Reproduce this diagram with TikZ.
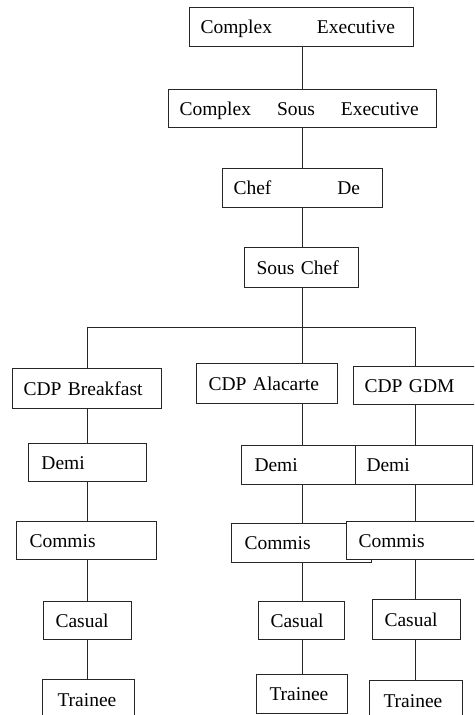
\documentclass[tikz,border=0pt]{standalone}
\usepackage{fontspec}
\setmainfont{Liberation Serif}
\begin{document}
\begin{tikzpicture}[x=1pt,y=-1pt,
		post/.style={draw=black!85, line width=1pt, fill=white, anchor=north west,
			inner ysep=0pt, align=left, text height=14pt, text depth=1pt,
			font=\fontsize{19.5}{22}\selectfont},
		link/.style={draw=black!85, line width=1pt}]
				% fix the page
				\useasboundingbox (0,0) rectangle (474,715);
				\clip (0,0) rectangle (474,715);

				% draw each post: name/left/top/width/height/padding/text
				\foreach \n/\x/\y/\w/\h/\p/\txt in {
					ce/189/7/224/39/11/Complex\hspace{45pt}Executive,
					cse/168/89/268/38/11/Complex\hspace{26pt}Sous\hspace{26pt}Executive,
					chef/222/168/160/39/11/Chef\hspace{66pt}De,
					sc/244/247/114/40/12/Sous Chef,
					% the stations
					bfast/12/368/149/40/11/CDP Breakfast,
					ala/196/363/141/40/12/CDP Alacarte,
					gdm/353/366/135/38/11/CDP GDM,
					% the breakfast column
					ldemi/28/443/118/38/13/Demi,
					lcom/16/521/140/38/13/Commis,
					lcas/43/601/88/38/12/Casual,
					ltr/42/679/92/40/15/Trainee,
					% the alacarte column
					mdemi/241/445/114/39/13/Demi,
					mcom/231/523/140/39/13/Commis,
					mcas/258/601/86/38/12/Casual,
					mtr/256/674/91/39/13/Trainee,
					% the gdm column
					rdemi/355/445/117/39/11/Demi,
					rcom/346/521/140/38/12/Commis,
					rcas/372/599/88/40/12/Casual,
					rtr/369/680/93/40/14/Trainee}
					{
						\pgfmathsetmacro\tw{\w-2*\p}
						\node[post, inner xsep=\p pt, text width=\tw pt, minimum height=\h pt] (\n) at (\x,\y) {\txt};
					}

				% the spines of the chart
				\coordinate (left) at (87,327);
				\coordinate (bar) at (302,327);
				\coordinate (right) at (415,327);

				% draw the top chain and the bar
				\foreach \a/\b in {ce/cse, cse/chef, chef/sc}
					\draw[link] (\a.south -| bar) -- (\b.north -| bar);
				\draw[link] (sc.south -| bar) -- (bar);
				\draw[link] (left) -- (right);
				\draw[link] (left) -- (bfast.north -| left);
				\draw[link] (bar) -- (ala.north -| bar);
				\draw[link] (right) -- (gdm.north -| right);

				% draw the columns
				\foreach \a/\b/\c in {
					bfast/ldemi/left, ldemi/lcom/left, lcom/lcas/left, lcas/ltr/left,
					ala/mdemi/bar, mdemi/mcom/bar, mcom/mcas/bar, mcas/mtr/bar,
					gdm/rdemi/right, rdemi/rcom/right, rcom/rcas/right, rcas/rtr/right}
						\draw[link] (\a.south -| \c) -- (\b.north -| \c);
			\end{tikzpicture}
\end{document}
